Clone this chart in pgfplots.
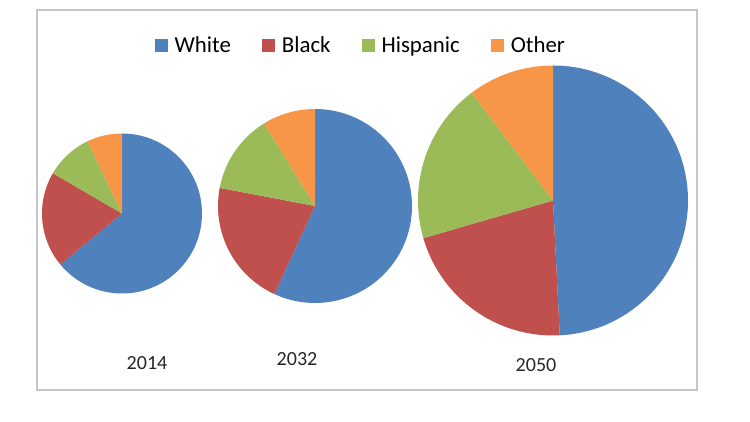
\documentclass[border=0pt]{standalone}
\usepackage{pgfplots}
\pgfplotsset{compat=1.18}
\usepackage{fontspec}
\setmainfont{Carlito}
\definecolor{cW}{HTML}{4F81BD}
\definecolor{cB}{HTML}{C0504D}
\definecolor{cH}{HTML}{9BBB59}
\definecolor{cO}{HTML}{F79646}
% \pie{cx}{cy}{r}{white}{black}{hispanic}{other}  (shares in percent, clockwise from 12 o'clock)
\newcommand{\pie}[7]{%
  \pgfmathsetmacro\aA{90}%
  \pgfmathsetmacro\aB{90-3.6*#4}%
  \pgfmathsetmacro\aC{\aB-3.6*#5}%
  \pgfmathsetmacro\aD{\aC-3.6*#6}%
  \pgfmathsetmacro\aE{\aD-3.6*#7}%
  \pgfmathsetmacro\rr{#3*0.02}%
  \fill[cW] (axis cs:#1,#2) -- ++(\aA:\rr cm) arc[start angle=\aA, end angle=\aB, radius=\rr cm] -- cycle;%
  \fill[cB] (axis cs:#1,#2) -- ++(\aB:\rr cm) arc[start angle=\aB, end angle=\aC, radius=\rr cm] -- cycle;%
  \fill[cH] (axis cs:#1,#2) -- ++(\aC:\rr cm) arc[start angle=\aC, end angle=\aD, radius=\rr cm] -- cycle;%
  \fill[cO] (axis cs:#1,#2) -- ++(\aD:\rr cm) arc[start angle=\aD, end angle=\aE, radius=\rr cm] -- cycle;%
}
\pgfplotsset{sqlegend/.style={fill=#1, draw=none, legend image code/.code={%
  \fill (0cm,-0.13cm) rectangle (0.26cm,0.13cm); \path (0.26cm,0) -- (0.33cm,0);}}}
\begin{document}
\begin{tikzpicture}
\begin{axis}[
  x=0.02cm, y=0.02cm,
  xmin=0, xmax=750, ymin=0, ymax=422,
  hide axis, clip=false,
  legend columns=-1,
  legend style={draw=none, fill=none, at={(axis cs:361.5,376)}, anchor=center,
    font=\fontsize{13}{15}\selectfont,
    /tikz/every even column/.append style={column sep=0.55cm}},
]
\pgfplotsextra{%
  \path (axis cs:0,0) rectangle (axis cs:750,422);
  \draw[gray!45, line width=0.9pt] (axis cs:37,32) rectangle (axis cs:697,412);
  \pie{122}{208.5}{80}{64.0}{19.4}{9.5}{7.1}
  \pie{315}{216}{97}{56.9}{21.1}{13.2}{8.8}
  \pie{553}{221.5}{135}{49.2}{21.3}{19.2}{10.3}
  \node[font=\fontsize{11.4}{13}\selectfont, text=black!85] at (axis cs:147,59) {2014};
  \node[font=\fontsize{11.4}{13}\selectfont, text=black!85] at (axis cs:297,63) {2032};
  \node[font=\fontsize{11.4}{13}\selectfont, text=black!85] at (axis cs:536,57) {2050};
}
\addlegendimage{sqlegend=cW}
\addlegendimage{sqlegend=cB}
\addlegendimage{sqlegend=cH}
\addlegendimage{sqlegend=cO}
\legend{White,Black,Hispanic,Other}
\end{axis}
\end{tikzpicture}
\end{document}
